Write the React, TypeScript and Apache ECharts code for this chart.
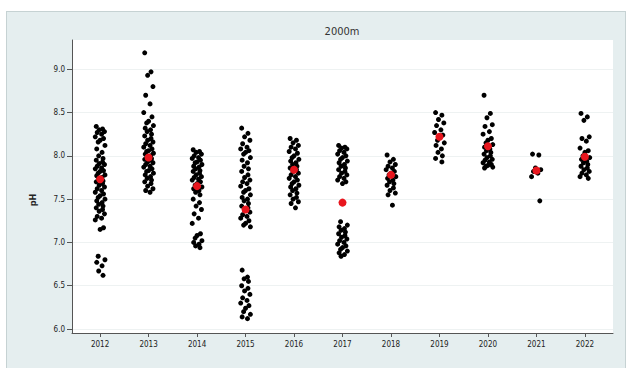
import React, { useEffect, useRef } from "react";
import * as echarts from "echarts";

const years = [2012, 2013, 2014, 2015, 2016, 2017, 2018, 2019, 2020, 2021, 2022];

const ph2012 = [8.34, 8.31, 8.3, 8.28, 8.27, 8.25, 8.22, 8.2, 8.18, 8.16, 8.12, 8.08, 8.04, 8.0, 7.97, 7.95, 7.93, 7.91, 7.9, 7.88, 7.86, 7.85, 7.83, 7.82, 7.8, 7.78, 7.77, 7.75, 7.73, 7.71, 7.7, 7.68, 7.66, 7.64, 7.62, 7.6, 7.58, 7.56, 7.54, 7.52, 7.5, 7.48, 7.46, 7.44, 7.42, 7.4, 7.38, 7.36, 7.33, 7.3, 7.28, 7.26, 7.17, 7.15, 6.84, 6.8, 6.77, 6.73, 6.67, 6.62];
const ph2013 = [9.19, 8.97, 8.93, 8.8, 8.7, 8.6, 8.5, 8.45, 8.4, 8.38, 8.35, 8.32, 8.3, 8.28, 8.25, 8.23, 8.2, 8.18, 8.16, 8.14, 8.12, 8.1, 8.08, 8.06, 8.05, 8.03, 8.02, 8.0, 7.99, 7.97, 7.96, 7.95, 7.93, 7.92, 7.9, 7.88, 7.87, 7.85, 7.83, 7.82, 7.8, 7.78, 7.76, 7.74, 7.72, 7.7, 7.68, 7.65, 7.62, 7.6, 7.58];
const ph2014 = [8.07, 8.05, 8.04, 8.02, 8.0, 7.98, 7.97, 7.95, 7.93, 7.92, 7.9, 7.88, 7.87, 7.85, 7.83, 7.82, 7.8, 7.78, 7.76, 7.75, 7.73, 7.72, 7.7, 7.68, 7.66, 7.64, 7.62, 7.6, 7.58, 7.55, 7.5, 7.46, 7.42, 7.38, 7.33, 7.28, 7.22, 7.1, 7.08, 7.05, 7.02, 7.0, 6.98, 6.96, 6.94];
const ph2015 = [8.32, 8.26, 8.22, 8.18, 8.14, 8.1, 8.08, 8.06, 8.04, 8.02, 7.98, 7.95, 7.92, 7.88, 7.85, 7.82, 7.78, 7.75, 7.72, 7.7, 7.68, 7.65, 7.62, 7.6, 7.58, 7.55, 7.52, 7.5, 7.48, 7.45, 7.42, 7.4, 7.37, 7.35, 7.32, 7.3, 7.28, 7.25, 7.22, 7.2, 7.18, 6.68, 6.6, 6.58, 6.55, 6.5, 6.47, 6.44, 6.4, 6.36, 6.33, 6.3, 6.27, 6.24, 6.2, 6.17, 6.14, 6.12];
const ph2016 = [8.2, 8.18, 8.15, 8.12, 8.1, 8.08, 8.05, 8.03, 8.0, 7.98, 7.96, 7.94, 7.92, 7.9, 7.88, 7.86, 7.84, 7.82, 7.8, 7.78, 7.76, 7.74, 7.72, 7.7, 7.68, 7.66, 7.64, 7.62, 7.6, 7.57, 7.55, 7.52, 7.5, 7.47, 7.45, 7.4];
const ph2017 = [8.12, 8.1, 8.09, 8.08, 8.06, 8.04, 8.02, 8.0, 7.98, 7.96, 7.94, 7.92, 7.9, 7.88, 7.86, 7.84, 7.82, 7.8, 7.78, 7.76, 7.74, 7.72, 7.7, 7.68, 7.24, 7.2, 7.18, 7.16, 7.14, 7.12, 7.1, 7.08, 7.06, 7.04, 7.02, 7.0, 6.98, 6.96, 6.94, 6.92, 6.9, 6.88, 6.86, 6.84];
const ph2018 = [8.01, 7.96, 7.93, 7.9, 7.88, 7.86, 7.84, 7.82, 7.8, 7.78, 7.76, 7.74, 7.72, 7.7, 7.68, 7.66, 7.63, 7.6, 7.57, 7.55, 7.43];
const ph2019 = [8.5, 8.47, 8.42, 8.38, 8.35, 8.3, 8.27, 8.24, 8.21, 8.18, 8.15, 8.12, 8.08, 8.04, 8.0, 7.97, 7.93];
const ph2020 = [8.7, 8.49, 8.44, 8.36, 8.34, 8.28, 8.25, 8.2, 8.18, 8.15, 8.13, 8.1, 8.08, 8.06, 8.04, 8.02, 8.0, 7.98, 7.96, 7.95, 7.93, 7.92, 7.9, 7.89, 7.88, 7.87, 7.86];
const ph2021 = [8.02, 8.01, 7.86, 7.84, 7.82, 7.8, 7.76, 7.48];
const ph2022 = [8.49, 8.45, 8.41, 8.22, 8.2, 8.17, 8.09, 8.06, 8.04, 8.0, 7.98, 7.96, 7.94, 7.92, 7.9, 7.88, 7.86, 7.84, 7.82, 7.8, 7.78, 7.76, 7.74];

const phByYear = [ph2012, ph2013, ph2014, ph2015, ph2016, ph2017, ph2018, ph2019, ph2020, ph2021, ph2022];
const meanPh = [7.73, 7.98, 7.65, 7.38, 7.84, 7.46, 7.78, 8.22, 8.11, 7.83, 7.99];
const yTicks = [6.0, 6.5, 7.0, 7.5, 8.0, 8.5, 9.0];
const jitter = [-0.08, 0.05, -0.02, 0.09, -0.06, 0.03, -0.1, 0.07, 0.0, -0.04, 0.1, -0.07, 0.04, -0.03, 0.06];

const FONT = "'Liberation Sans Narrow', 'DejaVu Sans Condensed', 'Liberation Sans', sans-serif";

export default function App() {
  const ref = useRef<HTMLDivElement>(null);
  useEffect(() => {
    if (!ref.current) return;
    const chart = echarts.init(ref.current, undefined, { renderer: "svg" });
    const points: number[][] = [];
    phByYear.forEach((arr, yi) => {
      arr.forEach((v, i) => {
        points.push([years[yi] + jitter[i % jitter.length], v]);
      });
    });
    const means = years.map((y, i) => [y, meanPh[i]]);
    chart.setOption({
      animation: false,
      backgroundColor: "transparent",
      grid: {
        left: 72,
        right: 17,
        top: 40,
        bottom: 35,
        show: true,
        backgroundColor: "#ffffff",
        borderWidth: 0,
        outerBoundsMode: "none",
      },
      graphic: [
        {
          type: "text",
          x: 342,
          y: 31,
          style: {
            text: "2000m",
            align: "center",
            verticalAlign: "middle",
            fontSize: 11,
            fontFamily: FONT,
            fill: "#333",
          },
        },
        {
          type: "text",
          x: 33,
          y: 200,
          rotation: Math.PI / 2,
          style: {
            text: "pH",
            align: "center",
            verticalAlign: "middle",
            fontSize: 9,
            fontWeight: "bold",
            fontFamily: FONT,
            fill: "#222",
          },
        },
      ],
      xAxis: {
        type: "value",
        min: 2011.42,
        max: 2022.58,
        axisLine: { show: true, onZero: false, lineStyle: { color: "#555", width: 1 } },
        axisTick: { show: true, customValues: years, length: 4, lineStyle: { color: "#555" } },
        axisLabel: {
          customValues: years,
          formatter: (v: number) => String(Math.round(v)),
          fontSize: 8,
          fontFamily: FONT,
          color: "#222",
          margin: 7,
        },
        splitLine: { show: false },
      },
      yAxis: {
        type: "value",
        min: 5.954,
        max: 9.338,
        axisLine: { show: true, onZero: false, lineStyle: { color: "#555", width: 1 } },
        axisTick: { show: true, customValues: yTicks, length: 5, lineStyle: { color: "#555" } },
        axisLabel: {
          customValues: yTicks,
          formatter: (v: number) => v.toFixed(1),
          fontSize: 8,
          fontFamily: FONT,
          color: "#222",
          margin: 7,
        },
        splitLine: { show: true, lineStyle: { color: "#eef2f2", width: 1 } },
      },
      series: [
        {
          type: "scatter",
          data: points,
          symbolSize: 5,
          itemStyle: { color: "#000", opacity: 1 },
          z: 2,
        },
        {
          type: "scatter",
          data: means,
          symbolSize: 8,
          itemStyle: { color: "#e8161e", opacity: 1 },
          z: 3,
        },
      ],
    });
    return () => chart.dispose();
  }, []);
  return (
    <div style={{ position: "fixed", left: 0, top: 0, width: 630, height: 368, background: "#ffffff" }}>
      <div
        style={{
          position: "absolute",
          left: 6,
          top: 11,
          width: 620,
          height: 362,
          background: "#e5eeef",
          border: "1px solid #c6d2d3",
          boxSizing: "border-box",
        }}
      />
      <div ref={ref} style={{ position: "absolute", left: 0, top: 0, width: 630, height: 368 }} />
    </div>
  );
}
